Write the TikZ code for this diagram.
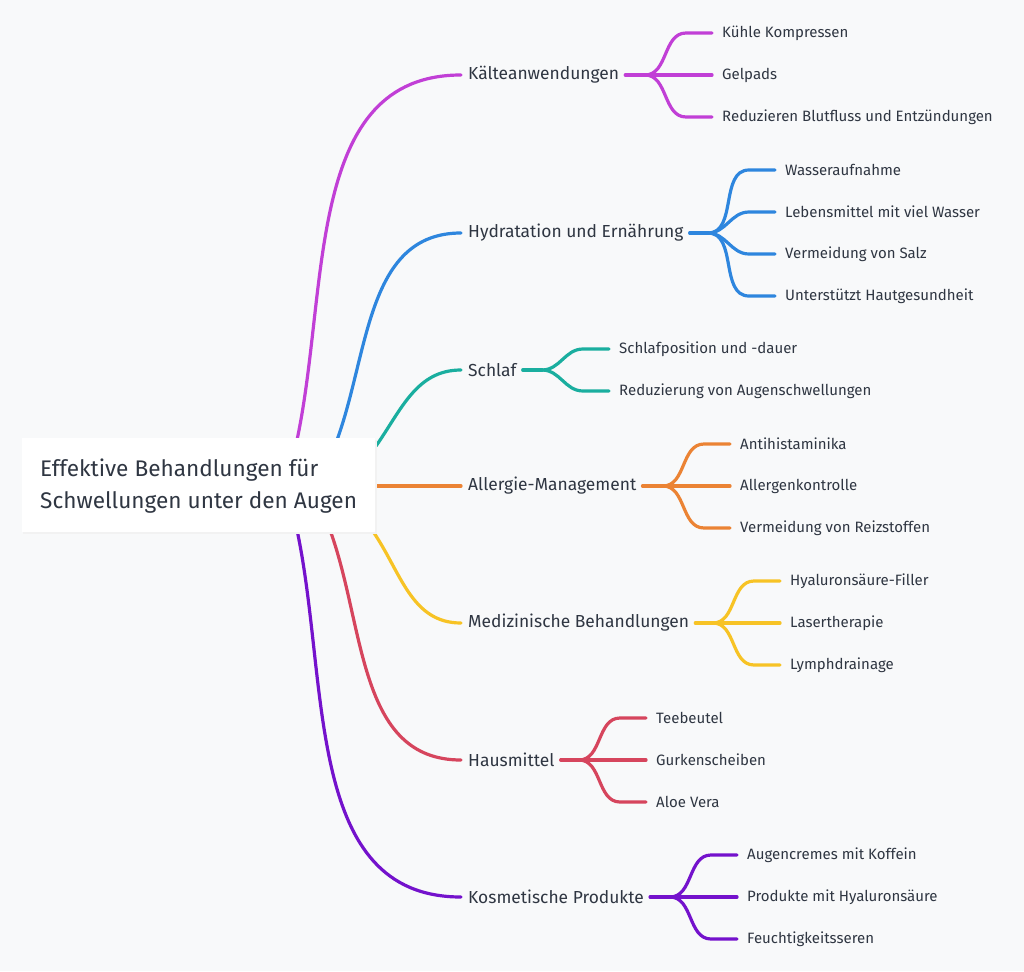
\documentclass[tikz,border=0pt]{standalone}
\usepackage{fontspec}
\setmainfont{Fira Sans}
\definecolor{bg}{HTML}{F8F9FA}
\definecolor{tx}{HTML}{2F3642}
\definecolor{cA}{HTML}{C13FD6}
\definecolor{cB}{HTML}{2E86DE}
\definecolor{cC}{HTML}{1AAE9F}
\definecolor{cD}{HTML}{EB8334}
\definecolor{cE}{HTML}{F7C325}
\definecolor{cF}{HTML}{D6455D}
\definecolor{cG}{HTML}{7412CC}
\tikzset{
 br/.style={anchor=west,inner sep=0pt,text=tx,font=\fontsize{17.4}{20}\selectfont},
 ch/.style={anchor=west,inner sep=0pt,text=tx,font=\fontsize{15}{18}\selectfont},
 ln/.style={line width=3.2pt,line cap=round}
}
\begin{document}
\begin{tikzpicture}[x=1pt,y=-1pt]
\fill[bg] (0,0) rectangle (1024,971);
\useasboundingbox (0,0) rectangle (1024,971);
% branches
\foreach \c/\sx/\sy/\o/\ly/\nm/\lab in {
 cA/297/440/78/75/bA/Kälteanwendungen,
 cB/337/440/70/233/bB/Hydratation und Ernährung,
 cC/376/446/55/370/bC/Schlaf,
 cD/375/486/0/486/bD/Allergie-Management,
 cE/372/530/-55/623/bE/Medizinische Behandlungen,
 cF/330/530/-70/760/bF/Hausmittel,
 cG/297/530/-78/897/bG/Kosmetische Produkte}{
 \node[br] (\nm) at (468,\ly) {\lab};
 \coordinate (s\nm) at (\sx,\sy);
 \draw[ln,\c] (s\nm) to[out=\o,in=180] ([xshift=-7pt]\nm.west);
}
% root
\fill[black!5] (23,440) rectangle (377,534);
\node[fill=white,minimum width=353pt,minimum height=94pt,inner sep=0pt] (root) at (198.5,485) {};
\node[anchor=west,text=tx,align=left,font=\fontsize{22.6}{32}\selectfont,inner sep=0pt] (rt) at (40,486) {Effektive Behandlungen für\\Schwellungen unter den Augen};
% children
\foreach \c/\b/\jx/\lx/\list in {
 cA/bA/645/722/{33/Kühle Kompressen,75/Gelpads,117/Reduzieren Blutfluss und Entzündungen},
 cB/bB/708/785/{170/Wasseraufnahme,212/Lebensmittel mit viel Wasser,254/Vermeidung von Salz,296/Unterstützt Hautgesundheit},
 cC/bC/542/619/{349/Schlafposition und -dauer,391/Reduzierung von Augenschwellungen},
 cD/bD/663/740/{444/Antihistaminika,486/Allergenkontrolle,528/Vermeidung von Reizstoffen},
 cE/bE/713/790/{581/Hyaluronsäure-Filler,623/Lasertherapie,665/Lymphdrainage},
 cF/bF/579/656/{718/Teebeutel,760/Gurkenscheiben,802/Aloe Vera},
 cG/bG/670/747/{855/Augencremes mit Koffein,897/Produkte mit Hyaluronsäure,939/Feuchtigkeitsseren}}{
 \coordinate (j\b) at (\jx,0 |- \b.west);
 \draw[ln,\c] ([xshift=6pt]\b.east) -- (j\b);
 \foreach \y/\t [count=\i] in \list {
  \node[ch] (\b\i) at (\lx,\y) {\t};
  \draw[ln,\c] (j\b) to[out=0,in=180] ([xshift=-36pt]\b\i.west) -- ([xshift=-10pt]\b\i.west);
 }
}
\end{tikzpicture}
\end{document}
